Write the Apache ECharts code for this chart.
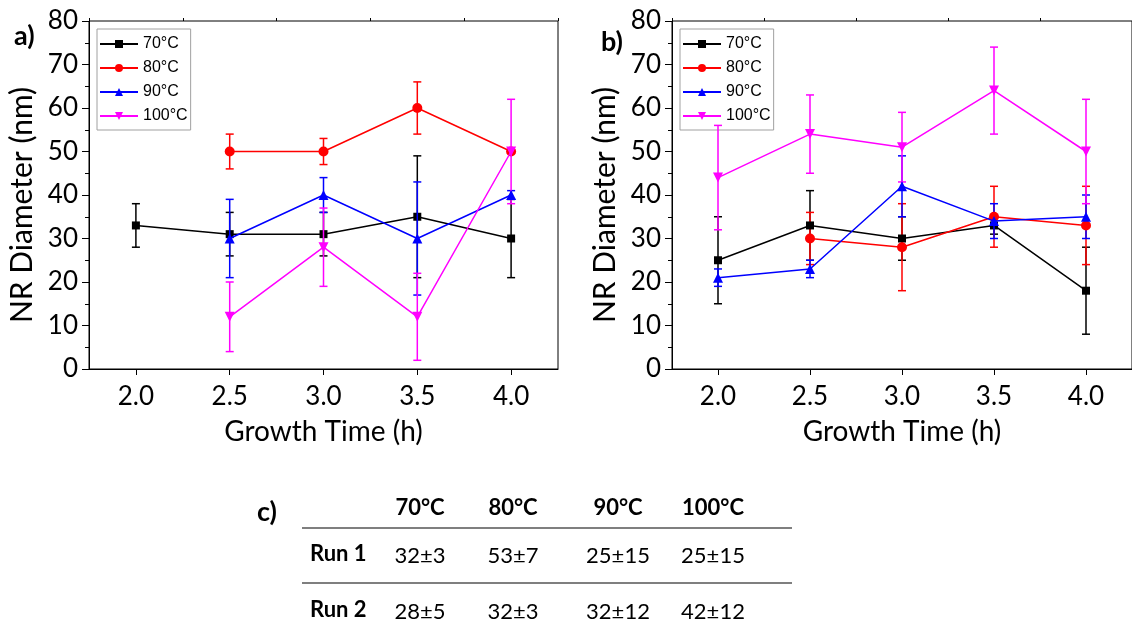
<!DOCTYPE html>
<html>
<head>
<meta charset="utf-8">
<script src="https://cdn.jsdelivr.net/npm/echarts@6/dist/echarts.min.js"></script>
<style>
  html, body { margin: 0; padding: 0; background: #fff; }
  #chart { width: 1132px; height: 634px; }
</style>
</head>
<body>
<div id="chart"></div>
<script>
// growth time (h)
const times = [2.0, 2.5, 3.0, 3.5, 4.0]
const xTicks = [2.0, 2.5, 3.0, 3.5, 4.0]
const xMinorTicks = [1.75, 2.25, 2.75, 3.25, 3.75, 4.25]
const temps = ['70°C', '80°C', '90°C', '100°C']

// run a) mean diameters (nm) and error
const a70 = [33, 31, 31, 35, 30]
const a70Err = [5, 5, 5, 14, 9]
const a80 = [null, 50, 50, 60, 50]
const a80Err = [null, 4, 3, 6, 0]
const a90 = [null, 30, 40, 30, 40]
const a90Err = [null, 9, 4, 13, 1]
const a100 = [null, 12, 28, 12, 50]
const a100Err = [null, 8, 9, 10, 12]

// run b)
const b70 = [25, 33, 30, 33, 18]
const b70Err = [10, 8, 5, 2, 10]
const b80 = [null, 30, 28, 35, 33]
const b80Err = [null, 6, 10, 7, 9]
const b90 = [21, 23, 42, 34, 35]
const b90Err = [2, 2, 7, 4, 5]
const b100 = [44, 54, 51, 64, 50]
const b100Err = [12, 9, 8, 10, 12]

// table c)
const tableHead = ['70°C', '80°C', '90°C', '100°C']
const run1 = ['32±3', '53±7', '25±15', '25±15']
const run2 = ['28±5', '32±3', '32±12', '42±12']

const colors = ['#000000', '#ff0000', '#0000ff', '#ff00ff']
const symbols = ['rect', 'circle', 'triangle', 'triangle']
const rotates = [0, 0, 0, 180]
const font = 'Lato'

const chart = echarts.init(document.getElementById('chart'))

const grids = [
    { left: 89, top: 21, width: 469, height: 348 },
    { left: 672, top: 21, width: 468, height: 348 },
]

const xAxes = []
const yAxes = []
grids.forEach((g, gi) => {
    xAxes.push({
        type: 'value', gridIndex: gi, min: 1.75, max: 4.25,
        axisLine: { lineStyle: { color: '#000', width: 1 } },
        axisTick: { length: 6, customValues: xTicks, lineStyle: { color: '#000' } },
        axisLabel: {
            customValues: xTicks, color: '#000', fontFamily: font, fontSize: 26, margin: 15,
            formatter: v => v.toFixed(1),
        },
        splitLine: { show: false },
        name: 'Growth Time (h)', nameLocation: 'middle', nameGap: 49,
        nameTextStyle: { color: '#000', fontFamily: font, fontSize: 28 },
    })
    xAxes.push({
        type: 'value', gridIndex: gi, min: 1.75, max: 4.25,
        axisLine: { show: false },
        axisTick: { length: 3, customValues: xMinorTicks, lineStyle: { color: '#000' } },
        axisLabel: { show: false },
        splitLine: { show: false },
    })
    yAxes.push({
        type: 'value', gridIndex: gi, min: 0, max: 80, interval: 10,
        axisLine: { show: true, lineStyle: { color: '#000', width: 1 } },
        axisTick: { show: true, length: 7, lineStyle: { color: '#000' } },
        minorTick: { show: true, splitNumber: 2, length: 4, lineStyle: { color: '#000' } },
        axisLabel: { color: '#000', fontFamily: font, fontSize: 26, margin: 11 },
        splitLine: { show: false },
        name: 'NR Diameter (nm)', nameLocation: 'middle', nameGap: 52,
        nameTextStyle: { color: '#000', fontFamily: font, fontSize: 30, padding: [0, 20, 0, 0] },
    })
})

function lineSeries(name, ci, vals, gi) {
    const data = []
    times.forEach((t, i) => {
        if (vals[i] != null) data.push([t, vals[i]])
    })
    return {
        type: 'line', name, data,
        xAxisIndex: gi * 2, yAxisIndex: gi,
        color: colors[ci],
        symbol: symbols[ci], symbolSize: ci === 0 ? 8 : 10, symbolRotate: rotates[ci],
        lineStyle: { width: 1.5 },
        itemStyle: { color: colors[ci] },
        z: 3 + ci,
    }
}

function errSeries(ci, vals, errs, gi) {
    const data = []
    times.forEach((t, i) => {
        if (vals[i] != null && errs[i]) data.push([t, vals[i] - errs[i], vals[i] + errs[i]])
    })
    return {
        type: 'custom', data,
        xAxisIndex: gi * 2, yAxisIndex: gi,
        encode: { x: 0, y: [1, 2] },
        z: 2 + ci,
        renderItem: (params, api) => {
            const lo = api.coord([api.value(0), api.value(1)])
            const hi = api.coord([api.value(0), api.value(2)])
            const w = 4
            const style = { stroke: colors[ci], lineWidth: 1.5 }
            return {
                type: 'group',
                children: [
                    { type: 'line', shape: { x1: lo[0], y1: lo[1], x2: hi[0], y2: hi[1] }, style },
                    { type: 'line', shape: { x1: lo[0] - w, y1: lo[1], x2: lo[0] + w, y2: lo[1] }, style },
                    { type: 'line', shape: { x1: hi[0] - w, y1: hi[1], x2: hi[0] + w, y2: hi[1] }, style },
                ],
            }
        },
    }
}

const runs = [
    [[a70, a70Err], [a80, a80Err], [a90, a90Err], [a100, a100Err]],
    [[b70, b70Err], [b80, b80Err], [b90, b90Err], [b100, b100Err]],
]

const series = []
runs.forEach((run, gi) => {
    run.forEach(([vals, errs], ci) => {
        series.push(errSeries(ci, vals, errs, gi))
        series.push(lineSeries(temps[ci], ci, vals, gi))
    })
})

const legendBase = {
    orient: 'vertical', top: 29, data: temps,
    itemWidth: 38, itemHeight: 10, itemGap: 8,
    padding: [7, 3, 6, 2],
    borderColor: '#a0a0a0', borderWidth: 1,
    textStyle: { color: '#000', fontFamily: 'Liberation Sans', fontSize: 16 },
    selectedMode: false,
}

// table c)
const colX = [420, 513, 618, 713]
const tableGraphic = [
    { type: 'text', left: 257, top: 499, style: { text: 'c)', font: `bold 27px ${font}`, fill: '#000' } },
    { type: 'line', shape: { x1: 302, y1: 528, x2: 792, y2: 528 }, style: { stroke: '#555', lineWidth: 1.5 } },
    { type: 'line', shape: { x1: 302, y1: 583, x2: 792, y2: 583 }, style: { stroke: '#555', lineWidth: 1.5 } },
    { type: 'text', x: 310, y: 554, style: { text: 'Run 1', font: `bold 22px ${font}`, fill: '#000', verticalAlign: 'middle' } },
    { type: 'text', x: 310, y: 610, style: { text: 'Run 2', font: `bold 22px ${font}`, fill: '#000', verticalAlign: 'middle' } },
]
tableHead.forEach((t, i) => {
    tableGraphic.push({ type: 'text', x: colX[i], y: 508, style: { text: t, font: `bold 22px ${font}`, fill: '#000', align: 'center', verticalAlign: 'middle' } })
    tableGraphic.push({ type: 'text', x: colX[i], y: 556, style: { text: run1[i], font: `22px ${font}`, fill: '#000', align: 'center', verticalAlign: 'middle' } })
    tableGraphic.push({ type: 'text', x: colX[i], y: 612, style: { text: run2[i], font: `22px ${font}`, fill: '#000', align: 'center', verticalAlign: 'middle' } })
})

chart.setOption({
    backgroundColor: '#fff',
    animation: false,
    title: [
        { text: 'a)', left: 9, top: 18, textStyle: { fontFamily: font, fontSize: 27, fontWeight: 'bold', color: '#000' } },
        { text: 'b)', left: 596, top: 24, textStyle: { fontFamily: font, fontSize: 27, fontWeight: 'bold', color: '#000' } },
    ],
    legend: [
        Object.assign({}, legendBase, { left: 97 }),
        Object.assign({}, legendBase, { left: 680 }),
    ],
    grid: grids.map(g => Object.assign({ show: true, borderColor: '#000', borderWidth: 1 }, g)),
    xAxis: xAxes,
    yAxis: yAxes,
    series,
    graphic: tableGraphic,
})
</script>
</body>
</html>
